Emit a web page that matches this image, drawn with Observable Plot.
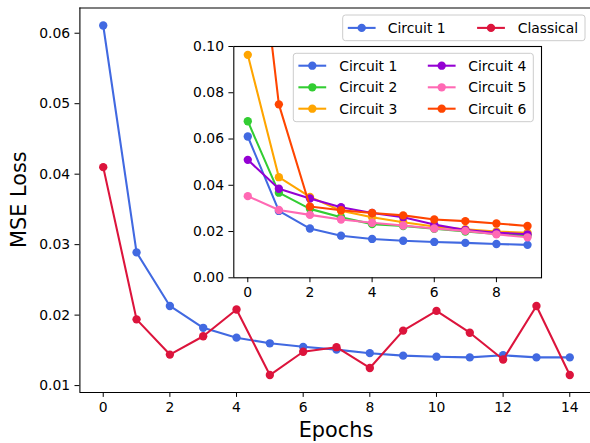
<!DOCTYPE html>
<html><head><meta charset="utf-8">
<script src="https://cdn.jsdelivr.net/npm/d3@7"></script>
<script src="https://cdn.jsdelivr.net/npm/@observablehq/plot@0.6"></script>
<style>
body{margin:0;background:white;}
#wrap{position:relative;width:590px;height:443px;overflow:hidden;font-family:"DejaVu Sans",sans-serif;background:white;}
#wrap svg{position:absolute;left:0;top:0;}
</style></head><body><div id="wrap"></div>
<script>
// ---- data ----
const mainEpochs = [0,1,2,3,4,5,6,7,8,9,10,11,12,13,14];
const circuit1 = [0.0611,0.0289,0.0213,0.0182,0.0168,0.0160,0.0155,0.0151,0.0146,0.01425,0.0141,0.0140,0.0143,0.0140,0.0140];
const classical = [0.0410,0.0194,0.0144,0.0170,0.0208,0.0115,0.0148,0.01545,0.0125,0.0178,0.0206,0.0175,0.0137,0.0213,0.0115];
const insetEpochs = [0,1,2,3,4,5,6,7,8,9];
const circuit2 = [0.0677,0.0368,0.0298,0.0262,0.0232,0.0224,0.0212,0.0200,0.0190,0.0183];
const circuit3 = [0.0964,0.0435,0.0350,0.0290,0.0262,0.0240,0.0222,0.0210,0.0200,0.0195];
const circuit4 = [0.0510,0.0385,0.0343,0.0305,0.0280,0.0262,0.0230,0.0207,0.0195,0.0188];
const circuit5 = [0.0353,0.0293,0.0272,0.0252,0.0238,0.0226,0.0213,0.0203,0.0188,0.0175];
const circuit6 = [0.19,0.0750,0.0308,0.0292,0.0280,0.0270,0.0252,0.0245,0.0235,0.0224];
const mainTicksX = [0,2,4,6,8,10,12,14];
const mainTicksY = [0.01,0.02,0.03,0.04,0.05,0.06];
const insetTicksX = [0,2,4,6,8];
const insetTicksY = [0.00,0.02,0.04,0.06,0.08,0.10];
const mainNames = ["Circuit 1","Classical"];
const insetNames = ["Circuit 1","Circuit 2","Circuit 3","Circuit 4","Circuit 5","Circuit 6"];
const colorOf = {"Circuit 1":"#4169E1","Classical":"#DC143C","Circuit 2":"#32CD32","Circuit 3":"#FFA500","Circuit 4":"#9400D3","Circuit 5":"#FF69B4","Circuit 6":"#FF4500"};
const xLabel = "Epochs", yLabel = "MSE Loss";

// ---- tables ----
const mainSeries = {"Circuit 1": circuit1, "Classical": classical};
const insetSeries = {"Circuit 1": circuit1.slice(0,10), "Circuit 2": circuit2, "Circuit 3": circuit3, "Circuit 4": circuit4, "Circuit 5": circuit5, "Circuit 6": circuit6};
const toRows = (epochs, vals, name) => epochs.map((e,i)=>({epoch:e, loss:vals[i], series:name}));

const W = 590, H = 443;
const LW = 2.08, R = 4.17, FS = 13.9, TK = 4.9;
const wrap = document.getElementById("wrap");

// main
const allMain = [...circuit1, ...classical];
const ext = d3.extent(allMain), pad = 0.05*(ext[1]-ext[0]);
const yDom = [ext[0]-pad, ext[1]+pad];
const xDom = [-0.7, 14.7];
const mainMarks = [];
for (const n of mainNames) {
  const rows = toRows(mainEpochs, mainSeries[n], n);
  mainMarks.push(Plot.line(rows, {x:"epoch", y:"loss", stroke: colorOf[n], strokeWidth: LW}));
  mainMarks.push(Plot.dot(rows, {x:"epoch", y:"loss", r: R, fill: colorOf[n], stroke: "none"}));
}
const mainPlot = Plot.plot({
  width: W, height: H,
  marginLeft: 79.4, marginRight: 0, marginTop: 7.5, marginBottom: 51,
  style: {fontFamily: "DejaVu Sans", fontSize: FS + "px", color: "black", background: "transparent", overflow: "visible"},
  x: {domain: xDom, range: [79.4, 592.6]},
  y: {domain: yDom},
  marks: [
    ...mainMarks,
    Plot.ruleX([xDom[0]], {stroke: "black", strokeWidth: 1.1}),
    Plot.ruleY([yDom[0], yDom[1]], {stroke: "black", strokeWidth: 1.1}),
    Plot.axisX({ticks: mainTicksX, tickSize: TK, tickPadding: 4.9, label: null, tickFormat: d => String(d), fontSize: FS}),
    Plot.axisY({ticks: mainTicksY, tickSize: TK, tickPadding: 4.9, label: null, tickFormat: d => d.toFixed(2), fontSize: FS})
  ]
});
wrap.appendChild(mainPlot);
const ms = d3.select(mainPlot);
ms.append("text").attr("x", 336).attr("y", 437).attr("text-anchor","middle")
  .attr("font-size","20.8px").attr("font-family","DejaVu Sans").attr("fill","black").text(xLabel);
ms.append("text").attr("transform","translate(26,199.7) rotate(-90)").attr("text-anchor","middle")
  .attr("font-size","20.8px").attr("font-family","DejaVu Sans").attr("fill","black").text(yLabel);

// inset
const ixDom = [-0.45, 9.45], iyDom = [0, 0.10];
const insetMarks = [];
for (const n of insetNames) {
  const rows = toRows(insetEpochs, insetSeries[n], n);
  insetMarks.push(Plot.line(rows, {x:"epoch", y:"loss", stroke: colorOf[n], strokeWidth: LW, clip: true}));
  insetMarks.push(Plot.dot(rows, {x:"epoch", y:"loss", r: R, fill: colorOf[n], stroke: "none", clip: true}));
}
const insetPlot = Plot.plot({
  width: W, height: H,
  marginLeft: 233.3, marginRight: 49, marginTop: 46, marginBottom: 165.7,
  style: {fontFamily: "DejaVu Sans", fontSize: FS + "px", color: "black", background: "transparent", overflow: "visible"},
  x: {domain: ixDom},
  y: {domain: iyDom},
  marks: [
    Plot.frame({fill: "white", stroke: "none"}),
    ...insetMarks,
    Plot.frame({stroke: "black", strokeWidth: 1.1}),
    Plot.axisX({ticks: insetTicksX, tickSize: TK, tickPadding: 4.9, label: null, tickFormat: d => String(d), fontSize: FS}),
    Plot.axisY({ticks: insetTicksY, tickSize: TK, tickPadding: 4.9, label: null, tickFormat: d => d.toFixed(2), fontSize: FS})
  ]
});
wrap.appendChild(insetPlot);

// legends overlay
const ov = d3.select(wrap).append("svg").attr("width", W).attr("height", H)
  .attr("font-family","DejaVu Sans").attr("font-size", FS + "px");
function legend(box, entries) {
  ov.append("rect").attr("x", box.x).attr("y", box.y).attr("width", box.w).attr("height", box.h)
    .attr("rx", 2.8).attr("fill", "white").attr("fill-opacity", 0.8).attr("stroke", "#cccccc").attr("stroke-width", 1);
  for (const e of entries) {
    const g = ov.append("g");
    g.append("line").attr("x1", e.mx - 13.9).attr("x2", e.mx + 13.9).attr("y1", e.y).attr("y2", e.y)
      .attr("stroke", colorOf[e.name]).attr("stroke-width", LW);
    g.append("circle").attr("cx", e.mx).attr("cy", e.y).attr("r", R).attr("fill", colorOf[e.name]);
    g.append("text").attr("x", e.tx).attr("y", e.y + 5).attr("fill", "black").text(e.name);
  }
}
legend({x: 342.7, y: 15, w: 242.3, h: 25.7}, mainNames.map((n,i) => ({name: n, mx: [361.7, 491][i], tx: [387.7, 517.7][i], y: 27.9})));
legend({x: 293.3, y: 53.3, w: 240, h: 68.4}, insetNames.map((n,i) => ({
  name: n, mx: i < 3 ? 312.3 : 441.7, tx: i < 3 ? 339.3 : 468.3, y: [65.7, 87.3, 108.7][i % 3]})));
</script></body></html>
